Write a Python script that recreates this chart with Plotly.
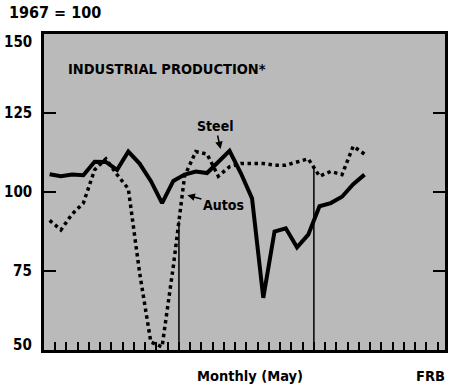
import numpy as np
import plotly.graph_objects as go

# Monthly index numbers (1967 = 100), three years of months, data through May
months = list(range(29))
steel = [105.6, 105.0, 105.5, 105.3, 109.6, 109.5, 107.0, 112.8, 109.0, 103.5,
         96.5, 103.5, 105.5, 106.5, 106.0, 109.5, 113.0, 106.0, 98.0, 66.5,
         87.5, 88.5, 82.5, 86.5, 95.5, 96.5, 98.5, 102.5, 105.5]
autos = [91.0, 88.0, 93.0, 96.5, 107.0, 110.5, 105.5, 101.0, 74.5, 52.5,
         51.0, 76.5, 105.0, 112.8, 112.0, 105.0, 108.0, 109.0, 109.0, 109.0,
         108.5, 108.5, 109.5, 110.5, 105.0, 106.5, 105.5, 114.5, 112.0]
year_breaks = [12, 24]
y_ticks = [50, 75, 100, 125, 150]
y_tick_text = ["50", "75", "100", "125", "150"]

FONT = "DejaVu Sans Condensed, Liberation Sans Narrow, Arial Narrow, sans-serif"
BG = "#bababa"

x_mid = [m + 0.5 for m in months]

fig = go.Figure()
fig.add_trace(go.Scatter(x=x_mid, y=autos, mode="lines",
                         line=dict(color="black", width=3.5, dash="dot"),
                         hoverinfo="skip", showlegend=False))
fig.add_trace(go.Scatter(x=x_mid, y=steel, mode="lines",
                         line=dict(color="black", width=4),
                         hoverinfo="skip", showlegend=False))

# year dividers rise from the baseline up to the autos curve
for b in year_breaks:
    top = float(np.interp(b, x_mid, autos))
    fig.add_shape(type="line", x0=b, x1=b, y0=50, y1=top, xref="x", yref="y",
                  line=dict(color="black", width=1.5))

ann = []
for v, t in zip(y_ticks, y_tick_text):
    shift = -8 if v == 150 else (5 if v == 50 else 0)
    ann.append(dict(x=0, xref="paper", y=v, yref="y", text=t, showarrow=False,
                    xanchor="right", yanchor="middle", xshift=-10, yshift=shift,
                    font=dict(family=FONT, size=15, color="black", weight="bold")))

ann += [
    dict(x=0.0, y=1.0, xref="paper", yref="paper", xanchor="left", yanchor="bottom",
         xshift=-37, yshift=10, text="1967 = 100", showarrow=False,
         font=dict(family=FONT, size=16, color="black", weight="bold")),
    dict(x=0.055, y=0.888, xref="paper", yref="paper", xanchor="left", yanchor="middle",
         text="INDUSTRIAL PRODUCTION*", showarrow=False,
         font=dict(family=FONT, size=14.5, color="black", weight="bold")),
    dict(x=15.7, y=113.6, xref="x", yref="y", text="Steel", showarrow=True,
         ax=-5, ay=-23, arrowhead=2, arrowsize=1, arrowwidth=1.5, arrowcolor="black",
         font=dict(family=FONT, size=14, color="black", weight="bold")),
    dict(x=12.75, y=99.0, xref="x", yref="y", text="Autos", showarrow=True,
         ax=36, ay=10, arrowhead=2, arrowsize=1, arrowwidth=1.5, arrowcolor="black",
         font=dict(family=FONT, size=14, color="black", weight="bold")),
    dict(x=0.5, y=0, xref="paper", yref="paper", xanchor="center", yanchor="middle",
         yshift=-26, xshift=5, text="Monthly (May)", showarrow=False,
         font=dict(family=FONT, size=14.5, color="black", weight="bold")),
    dict(x=1.0, y=0, xref="paper", yref="paper", xanchor="right", yanchor="middle",
         yshift=-26, xshift=2, text="FRB", showarrow=False,
         font=dict(family=FONT, size=14.5, color="black", weight="bold")),
]

fig.update_layout(
    width=449, height=390,
    margin=dict(l=44, r=1, t=34, b=40),
    paper_bgcolor="white", plot_bgcolor=BG,
    annotations=ann,
    xaxis=dict(range=[0, 35.66], tickmode="linear", tick0=0, dtick=1,
               ticks="inside", ticklen=8, tickwidth=1.5, tickcolor="black",
               showticklabels=False, showgrid=False, zeroline=False,
               showline=True, linewidth=3, linecolor="black", mirror=True),
    yaxis=dict(range=[50, 150], tickvals=y_ticks, ticks="inside", ticklen=12,
               tickwidth=1.5, tickcolor="black", showticklabels=False,
               showgrid=False, zeroline=False, showline=True, linewidth=2.5,
               linecolor="black", mirror="ticks"),
)

fig.write_html("out.html")
